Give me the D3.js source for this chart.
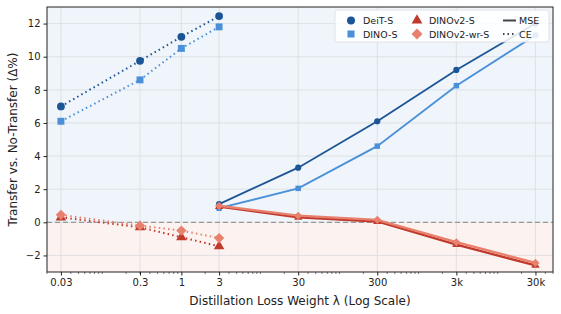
<!DOCTYPE html>
<html>
<head>
<meta charset="utf-8">
<script src="https://cdn.jsdelivr.net/npm/d3@7"></script>
<style>
  body { margin: 0; background: #fff; }
  svg { font-family: "DejaVu Sans", sans-serif; }
</style>
</head>
<body>
<svg id="chart" width="561" height="314"></svg>
<script>
"use strict";

// lambda values
const ceLambdas = [0.03, 0.3, 1, 3];
const mseLambdas = [3, 30, 300, 3000, 30000];

// CE (dotted) results
const ceDeit = [7.0, 9.75, 11.2, 12.45];
const ceDino = [6.1, 8.6, 10.5, 11.8];
const ceDinov2 = [0.3, -0.3, -0.9, -1.45];
const ceDinov2wr = [0.45, -0.2, -0.5, -0.95];

// MSE (solid) results
const mseDeit = [1.1, 3.3, 6.1, 9.2, 12.0];
const mseDino = [0.85, 2.05, 4.6, 8.25, 11.3];
const mseDinov2 = [0.95, 0.3, 0.05, -1.35, -2.6];
const mseDinov2wr = [1.0, 0.4, 0.15, -1.2, -2.45];

const xTicks = [0.03, 0.3, 1, 3, 30, 300, 3000, 30000];
const xTickLabels = ['0.03', '0.3', '1', '3', '30', '300', '3k', '30k'];
const yTicks = [-2, 0, 2, 4, 6, 8, 10, 12];

const models = [
    {name: 'DeiT-S', color: '#1b5596', marker: 'circle', ce: ceDeit, mse: mseDeit},
    {name: 'DINO-S', color: '#4a90d9', marker: 'square', ce: ceDino, mse: mseDino},
    {name: 'DINOv2-S', color: '#c0392b', marker: 'triangle', ce: ceDinov2, mse: mseDinov2},
    {name: 'DINOv2-wr-S', color: '#e8806e', marker: 'diamond', ce: ceDinov2wr, mse: mseDinov2wr},
];

const LEFT = 47, RIGHT = 553, TOP = 7, BOTTOM = 272;

const svg = d3.select('#chart');
const x = d3.scaleLog().domain([0.02, 50000]).range([LEFT, RIGHT]);
const y = d3.scaleLinear().domain([-3, 13]).range([BOTTOM, TOP]);

// shaded regions
svg.append('rect').attr('x', LEFT).attr('y', TOP).attr('width', RIGHT - LEFT).attr('height', y(0) - TOP)
    .attr('fill', '#eff5fa');
svg.append('rect').attr('x', LEFT).attr('y', y(0)).attr('width', RIGHT - LEFT).attr('height', BOTTOM - y(0))
    .attr('fill', '#fcf2f0');

// grid
const grid = svg.append('g').attr('stroke', '#d4d8dc').attr('stroke-width', 0.8).attr('opacity', 0.8);
for (const t of xTicks) {
    grid.append('line').attr('x1', x(t)).attr('x2', x(t)).attr('y1', TOP).attr('y2', BOTTOM);
}
for (const t of yTicks) {
    grid.append('line').attr('x1', LEFT).attr('x2', RIGHT).attr('y1', y(t)).attr('y2', y(t));
}

// zero line
svg.append('line').attr('x1', LEFT).attr('x2', RIGHT).attr('y1', y(0)).attr('y2', y(0))
    .attr('stroke', '#999').attr('stroke-width', 1.3).attr('stroke-dasharray', '5,3');

// matplotlib-like diamond: a square rotated by 45 degrees
const symbolSquareDiamond = {
    draw(context, size) {
        const r = Math.sqrt(size / 2);
        context.moveTo(0, -r);
        context.lineTo(r, 0);
        context.lineTo(0, r);
        context.lineTo(-r, 0);
        context.closePath();
    }
};

function markerPath(kind, size) {
    const types = {circle: d3.symbolCircle, square: d3.symbolSquare, triangle: d3.symbolTriangle, diamond: symbolSquareDiamond};
    return d3.symbol().type(types[kind]).size(size)();
}

const line = d3.line().x(d => x(d[0])).y(d => y(d[1]));

function drawSeries(model, lambdas, values, dotted) {
    const pts = lambdas.map((l, i) => [l, values[i]]);
    const g = svg.append('g');
    const red = model.marker === 'triangle' || model.marker === 'diamond';
    g.append('path').datum(pts).attr('d', line).attr('fill', 'none')
        .attr('stroke', model.color)
        .attr('stroke-width', dotted ? 2 : (red ? 2.3 : 1.8))
        .attr('stroke-dasharray', dotted ? '1.5,3.2' : null);
    const size = dotted ? 48 : 30;
    g.selectAll('path.m').data(pts).join('path').attr('class', 'm')
        .attr('d', markerPath(model.marker, model.marker === 'diamond' ? size * 1.1 : size))
        .attr('transform', d => `translate(${x(d[0])},${y(d[1])})`)
        .attr('fill', model.color);
}

for (const m of models) drawSeries(m, ceLambdas, m.ce, true);
for (const m of models) drawSeries(m, mseLambdas, m.mse, false);

// frame
svg.append('rect').attr('x', LEFT).attr('y', TOP).attr('width', RIGHT - LEFT).attr('height', BOTTOM - TOP)
    .attr('fill', 'none').attr('stroke', '#222').attr('stroke-width', 1);

// axes
const xAxis = d3.axisBottom(x).tickValues(xTicks).tickFormat((d, i) => xTickLabels[i]).tickSize(3.5).tickPadding(3);
const xg = svg.append('g').attr('transform', `translate(0,${BOTTOM})`).call(xAxis);
// minor ticks
const minor = [];
for (let e = -2; e <= 4; e++) {
    for (let k = 1; k <= 9; k++) {
        const v = k * Math.pow(10, e);
        if (v >= 0.02 && v <= 50000 && !xTicks.includes(v)) minor.push(v);
    }
}
xg.selectAll('line.minor').data(minor).join('line').attr('class', 'minor')
    .attr('x1', d => x(d)).attr('x2', d => x(d)).attr('y1', 0).attr('y2', 2).attr('stroke', '#222').attr('stroke-width', 0.6);

const yAxis = d3.axisLeft(y).tickValues(yTicks).tickFormat(d => d < 0 ? '\u2212' + Math.abs(d) : d).tickSize(3.5).tickPadding(3);
const yg = svg.append('g').attr('transform', `translate(${LEFT},0)`).call(yAxis);

for (const g of [xg, yg]) {
    g.select('.domain').remove();
    g.selectAll('.tick line').attr('stroke', '#222');
    g.selectAll('.tick text').attr('fill', '#222').attr('font-size', 10).attr('font-family', 'DejaVu Sans');
}

// axis labels
svg.append('text').attr('x', (LEFT + RIGHT) / 2).attr('y', 305).attr('text-anchor', 'middle')
    .attr('font-size', 12).attr('fill', '#222').text('Distillation Loss Weight \u03bb (Log Scale)');
svg.append('text').attr('transform', `translate(17,${(TOP + BOTTOM) / 2}) rotate(-90)`).attr('text-anchor', 'middle')
    .attr('font-size', 12).attr('fill', '#222').text('Transfer vs. No-Transfer (\u0394%)');

// legend
const legend = svg.append('g').attr('transform', 'translate(335,10)');
legend.append('rect').attr('width', 214).attr('height', 32).attr('rx', 2).attr('fill', '#fff').attr('fill-opacity', 0.85)
    .attr('stroke', '#ddd').attr('stroke-width', 0.8);
const legendItems = [
    {model: models[0], col: 0, row: 0}, {model: models[1], col: 0, row: 1},
    {model: models[2], col: 1, row: 0}, {model: models[3], col: 1, row: 1},
];
const colX = [16, 82];
for (const it of legendItems) {
    const lx = colX[it.col], ly = 10.5 + it.row * 13.5;
    legend.append('path').attr('d', markerPath(it.model.marker, it.model.marker === 'diamond' ? 60 : 50))
        .attr('transform', `translate(${lx},${ly})`).attr('fill', it.model.color);
    legend.append('text').attr('x', lx + 12).attr('y', ly + 3.5).attr('font-size', 9.5).attr('fill', '#222').text(it.model.name);
}
const lineStyles = [{label: 'MSE', dash: null}, {label: 'CE', dash: '1.5,3'}];
lineStyles.forEach((s, i) => {
    const ly = 10.5 + i * 13.5;
    legend.append('line').attr('x1', 168).attr('x2', 181).attr('y1', ly).attr('y2', ly)
        .attr('stroke', '#444').attr('stroke-width', 2).attr('stroke-dasharray', s.dash);
    legend.append('text').attr('x', 184).attr('y', ly + 3.5).attr('font-size', 9.5).attr('fill', '#222').text(s.label);
});
</script>
</body>
</html>
